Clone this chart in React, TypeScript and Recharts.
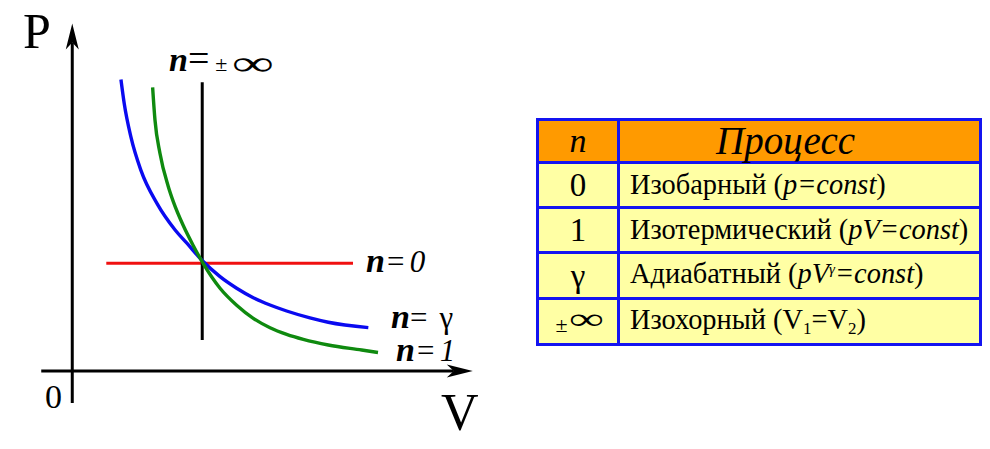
import React from "react";
import { LineChart, Line, XAxis, YAxis, ReferenceLine } from "recharts";

// p-V diagram values (V, p in arbitrary units, curves cross near V=1)
const adiabatV = [0.372, 0.397, 0.448, 0.524, 0.647, 0.786, 0.874, 0.989, 1.129, 1.256, 1.383, 1.511, 1.638, 1.816, 1.956, 2.262];
const adiabatP = [2.676, 2.456, 2.149, 1.844, 1.538, 1.294, 1.175, 1.018, 0.865, 0.759, 0.672, 0.605, 0.55, 0.487, 0.447, 0.397];

const isothermV = [0.614, 0.632, 0.67, 0.734, 0.772, 0.848, 0.925, 1.001, 1.129, 1.256, 1.383, 1.511, 1.638, 1.765, 1.956, 2.211, 2.336];
const isothermP = [2.604, 2.304, 1.998, 1.692, 1.555, 1.335, 1.15, 0.985, 0.759, 0.603, 0.483, 0.397, 0.336, 0.29, 0.238, 0.192, 0.169];

const isobarV = [0.26, 2.145];
const isobarP = [0.988, 0.988];

const isochorV = [0.993, 0.993];
const isochorP = [2.65, 0.284];

const vAxisRange = [-0.237, 3.06];
const pAxisRange = [-0.294, 3.19];

const tableN = ["0", "1", "γ", "±∞"];
const tableNames = ["Изобарный", "Изотермический", "Адиабатный", "Изохорный"];

const zip = (vs: number[], ps: number[]) => vs.map((v, i) => ({ v, p: ps[i] }));

const serif = "'Times New Roman', 'Liberation Serif', serif";

const ArrowLine = (props: any) => {
  const { x1, y1, x2, y2 } = props;
  const a = Math.atan2(y2 - y1, x2 - x1);
  const c = Math.cos(a);
  const s = Math.sin(a);
  const pt = (d: number, o: number) => `${x2 - d * c - o * s},${y2 - d * s + o * c}`;
  const L = 26;
  const W = 6.5;
  const N = 19;
  return (
    <g>
      <line x1={x1} y1={y1} x2={x2 - N * c} y2={y2 - N * s} stroke="#000" strokeWidth={3} />
      <polygon points={`${pt(0, 0)} ${pt(L, W)} ${pt(N, 0)} ${pt(L, -W)}`} fill="#000" />
    </g>
  );
};

const cellBorder = "3px solid #1414f0";

const sub = (t: string) => (
  <span style={{ fontSize: 17, position: "relative", top: 5 }}>{t}</span>
);

function ProcessTable() {
  const rowH = [45, 45, 46, 46];
  const labels = [
    <> Изобарный (<i style={{ fontFamily: serif }}>p=const</i>)</>,
    <>Изотермический (<i style={{ fontFamily: serif }}>pV=const</i>)</>,
    <>
      Адиабатный (<i style={{ fontFamily: serif }}>pV<span style={{ fontSize: 15, position: "relative", top: -9 }}>γ</span>=const</i>)
    </>,
    <>Изохорный (V{sub("1")}=V{sub("2")})</>,
  ];
  const td = { border: cellBorder, padding: 0, verticalAlign: "middle" as const, fontFamily: serif };
  return (
    <table
      style={{
        position: "absolute",
        left: 536,
        top: 118,
        width: 443,
        borderCollapse: "collapse",
        tableLayout: "fixed",
        fontFamily: serif,
        color: "#000",
      }}
    >
      <colgroup>
        <col style={{ width: 81 }} />
        <col style={{ width: 362 }} />
      </colgroup>
      <tbody>
        <tr style={{ height: 43, background: "#ff9a00" }}>
          <td style={{ ...td, textAlign: "center", fontStyle: "italic", fontSize: 34, lineHeight: "36px" }}>n</td>
          <td style={{ ...td, textAlign: "center", fontStyle: "italic", fontSize: 39, lineHeight: "38px", paddingRight: 28 }}>
            Процесс
          </td>
        </tr>
        {tableN.map((n, i) => (
          <tr key={tableNames[i]} style={{ height: rowH[i], background: "#ffffa4" }}>
            <td style={{ ...td, textAlign: "center", fontSize: 33, lineHeight: "34px" }}>
              {n === "±∞" ? (
                <>
                  <span style={{ fontSize: 22 }}>±</span>
                  <span style={{ fontSize: 38, display: "inline-block", transform: "scale(1.3, 0.8)", marginLeft: 6 }}>∞</span>
                </>
              ) : (
                n
              )}
            </td>
            <td style={{ ...td, fontSize: 28.4, paddingLeft: 10, whiteSpace: "nowrap", lineHeight: "30px" }}>
              {labels[i]}
            </td>
          </tr>
        ))}
      </tbody>
    </table>
  );
}

export default function App() {
  return (
    <div style={{ position: "absolute", left: 0, top: 0, width: 990, height: 449, background: "#fff", overflow: "hidden" }}>
      <LineChart width={480} height={449} margin={{ top: 17, right: 2, left: 33, bottom: 40 }}>
        <XAxis type="number" dataKey="v" domain={[-0.3, 3.1]} hide allowDataOverflow />
        <YAxis type="number" dataKey="p" domain={[-0.35, 3.25]} hide allowDataOverflow />
        <ReferenceLine
          segment={[{ x: vAxisRange[0], y: 0 }, { x: vAxisRange[1], y: 0 }]}
          ifOverflow="visible"
          shape={ArrowLine}
        />
        <ReferenceLine
          segment={[{ x: 0, y: pAxisRange[0] }, { x: 0, y: pAxisRange[1] }]}
          ifOverflow="visible"
          shape={ArrowLine}
        />
        <Line data={zip(isobarV, isobarP)} dataKey="p" type="linear" stroke="#f01010" strokeWidth={3} dot={false} isAnimationActive={false} />
        <Line data={zip(isochorV, isochorP)} dataKey="p" type="linear" stroke="#000" strokeWidth={3} dot={false} isAnimationActive={false} />
        <Line data={zip(adiabatV, adiabatP)} dataKey="p" type="monotone" stroke="#0a0af0" strokeWidth={3.4} dot={false} isAnimationActive={false} />
        <Line data={zip(isothermV, isothermP)} dataKey="p" type="monotone" stroke="#0f8a0f" strokeWidth={3.4} dot={false} isAnimationActive={false} />
      </LineChart>
      <svg width={990} height={449} style={{ position: "absolute", left: 0, top: 0, pointerEvents: "none" }}>
        <g fontFamily={serif}>
          <text x={23} y={48} fontSize={50}>P</text>
          <text x={441} y={430} fontSize={52}>V</text>
          <text x={45} y={408} fontSize={34}>0</text>
          <text x={169} y={71} fontSize={30} fontStyle="italic">
            <tspan fontSize={34} fontWeight="bold">n</tspan>
            <tspan fontSize={38} fontStyle="normal">=</tspan>
            <tspan fontSize={22} dx={6} fontStyle="normal">±</tspan>
          </text>
          <text transform="translate(232,75) scale(1.35,0.8)" fontSize={44}>∞</text>
          <text x={366} y={272} fontSize={31} fontStyle="italic">
            <tspan fontSize={34} fontWeight="bold">n</tspan>
            <tspan>=</tspan>
            <tspan dx={4}>0</tspan>
          </text>
          <text x={391} y={328} fontSize={31} fontStyle="italic">
            <tspan fontSize={34} fontWeight="bold">n</tspan>
            <tspan fontStyle="normal">=</tspan>
            <tspan dx={12} fontStyle="normal">γ</tspan>
          </text>
          <text x={396} y={361} fontSize={31} fontStyle="italic">
            <tspan fontSize={34} fontWeight="bold">n</tspan>
            <tspan>=</tspan>
            <tspan dx={4}>1</tspan>
          </text>
        </g>
      </svg>
      <ProcessTable />
    </div>
  );
}
